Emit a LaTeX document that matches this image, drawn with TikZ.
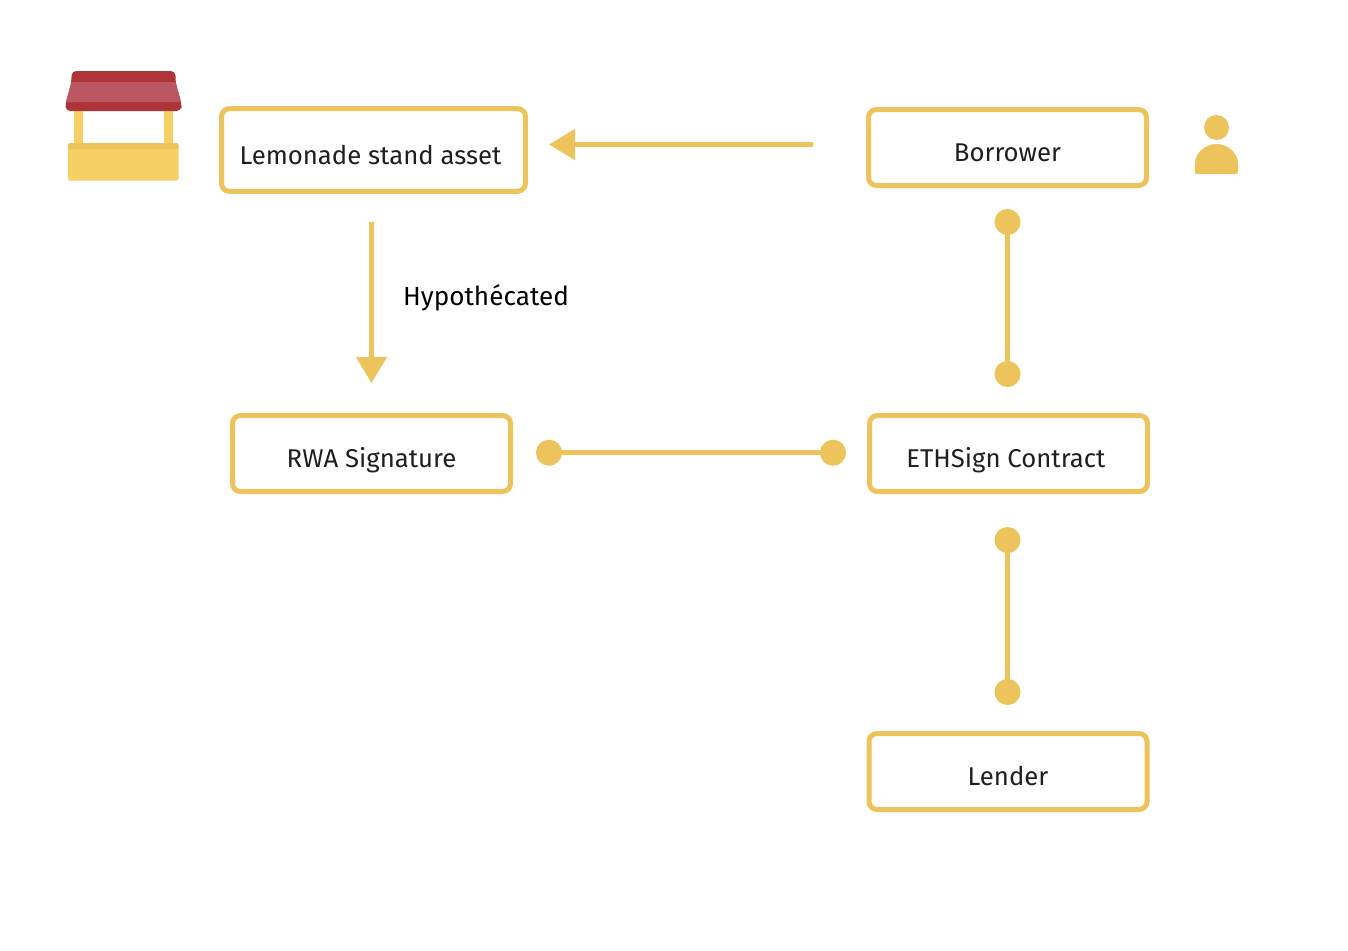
\documentclass[tikz,border=0pt]{standalone}
\usepackage{fontspec}
\setmainfont{Fira Sans}
\usetikzlibrary{arrows.meta}
\definecolor{signgold}{HTML}{EDC45C}
\definecolor{standyellow}{HTML}{F6D062}
\definecolor{awningred}{HTML}{AF343A}
\definecolor{awningpale}{HTML}{BC5662}
\tikzset{
  x=0.75pt,y=-0.75pt,
  flowbox/.style={draw=signgold,line width=3.75pt,rounded corners=6pt,fill=white,font=\fontsize{19.3}{24}\selectfont,text=black!88,text height=21pt,text depth=0pt},
  flowarrow/.style={draw=signgold,line width=3.75pt,-{Triangle[length=19.5pt,width=22.5pt]}},
  flowlink/.style={draw=signgold,line width=3.75pt,{Circle[length=19.5pt]}-{Circle[length=19.5pt]}},
}
\begin{document}
\begin{tikzpicture}
  \useasboundingbox (0,0) rectangle (1348,950);
  \node[flowbox,minimum width=228pt,minimum height=62pt] (asset) at (373.5,150) {\hspace*{-4.5pt}Lemonade stand asset};
  \node[flowbox,minimum width=208.5pt,minimum height=57pt] (borrower) at (1007.5,147.5) {Borrower};
  \node[flowbox,minimum width=208.5pt,minimum height=57pt] (rwa) at (371.5,453.5) {RWA Signature};
  \node[flowbox,minimum width=208.5pt,minimum height=57pt] (contract) at (1008.5,453.5) {\hspace*{-4pt}ETHSign Contract};
  \node[flowbox,minimum width=208.5pt,minimum height=57pt] (lender) at (1008,771.5) {Lender};
  \node[font=\fontsize{19.6}{24}\selectfont,text=black] (hypo) at (486,298) {Hypothécated};

  \draw[flowarrow,shorten <=39.75pt,shorten >=15.75pt] ([yshift=2.25pt]borrower.west) -- ([yshift=4.1pt]asset.east);
  \draw[flowarrow,shorten <=21pt,shorten >=22.5pt] (asset.south -| rwa.north) -- (rwa.north);
  \draw[flowlink,shorten <=15.75pt,shorten >=19.5pt] (borrower.south) -- (borrower.south |- contract.north);
  \draw[flowlink,shorten <=17.25pt,shorten >=15.75pt] ([yshift=0.6pt]rwa.east) -- ([yshift=0.6pt]contract.west);
  \draw[flowlink,shorten <=24.75pt,shorten >=19.5pt] (contract.south -| borrower.south) -- (lender.north -| borrower.south);

  % stand
  \fill[standyellow] (74,105) rectangle (83,146);
  \fill[standyellow] (164,105) rectangle (173,146);
  \fill[standyellow,rounded corners=1.5pt] (68,145) rectangle (178.5,180.5);
  \fill[signgold,rounded corners=1.5pt] (68,149) -- (68,143) -- (178.5,143) -- (178.5,149) -- cycle;
  \fill[awningred,rounded corners=3.5pt] (71.5,71) -- (175.5,71) -- (175.5,82) -- (181.5,104) -- (181.5,111) -- (65.5,111) -- (65.5,104) -- (71.5,82) -- cycle;
  \fill[awningpale] (71.5,82) -- (175.5,82) -- (181,102) -- (66,102) -- cycle;
  % person
  \fill[signgold] (1216.5,127.5) circle[radius=12.5];
  \fill[signgold,rounded corners=1.5pt] (1195,174) -- (1195,165.5) arc[start angle=180,end angle=360,radius=21.5] -- (1238,174) -- cycle;
\end{tikzpicture}
\end{document}
